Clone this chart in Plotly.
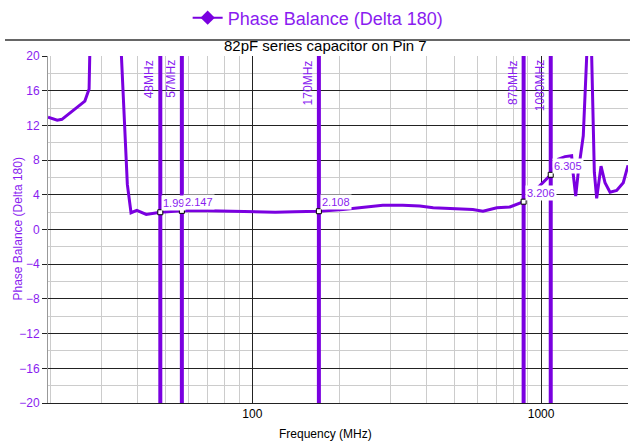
import math
import plotly.graph_objects as go

# ---- data ----
freq_mhz = [19.6, 20, 21.1, 21.9, 24.0, 26.3, 27.2, 27.5, 27.8,
            34.9, 35.2, 36.9, 38.0, 39.8, 42.9, 48, 57, 70, 85, 100, 120, 140, 170,
            206, 240, 283, 332, 380, 423, 470, 536, 580, 629, 703, 780, 870,
            1080, 1147, 1210, 1276, 1290, 1318, 1346, 1400, 1439, 1455, 1485, 1497,
            1529, 1558, 1613, 1665, 1733, 1827, 1926, 2000]
phase_bal = [12.95, 12.85, 12.6, 12.7, 13.7, 14.8, 16.2, 20, 32,
             32, 20, 5.2, 1.93, 2.2, 1.73, 1.99, 2.147, 2.15, 2.1, 2.05, 2.0, 2.05, 2.108,
             2.3, 2.55, 2.8, 2.8, 2.7, 2.5, 2.45, 2.4, 2.3, 2.1, 2.5, 2.6, 3.206,
             6.305, 8.1, 8.4, 8.5, 6.6, 3.85, 6.7, 10.8, 20, 32, 32, 20,
             6.6, 3.6, 7.3, 5.4, 4.3, 4.5, 5.4, 7.4]

marker_freqs = [48, 57, 170, 870, 1080]
marker_names = ["48MHz", "57MHz", "170MHz", "870MHz", "1080MHz"]
marker_vals = [1.99, 2.147, 2.108, 3.206, 6.305]
marker_texts = ["1.99", "2.147", "2.108", "3.206", "6.305"]

x_tickvals = [100, 1000]
x_minor = [20, 30, 40, 50, 60, 70, 80, 90, 200, 300, 400, 500, 600, 700, 800, 900, 2000]

series_name = "Phase Balance (Delta 180)"
subtitle = "82pF series capacitor on Pin 7"
x_title = "Frequency (MHz)"

LINE = "#7a00e0"
TEXT = "#8a1cf0"
FONT = "Liberation Sans, Arial, sans-serif"

fig = go.Figure()

# marker vertical lines
for f in marker_freqs:
    fig.add_trace(go.Scatter(x=[f, f], y=[-20, 20], mode="lines",
                             line=dict(color=LINE, width=4), showlegend=False,
                             hoverinfo="skip"))

# main curve
fig.add_trace(go.Scatter(x=freq_mhz, y=phase_bal, mode="lines",
                         line=dict(color=LINE, width=3), showlegend=False))

# legend entry
fig.add_trace(go.Scatter(x=[None], y=[None], mode="lines+markers", name=series_name,
                         line=dict(color=LINE, width=2),
                         marker=dict(symbol="diamond", size=11, color=LINE)))

# marker points
fig.add_trace(go.Scatter(x=marker_freqs, y=marker_vals, mode="markers",
                         marker=dict(symbol="square", size=5, color="white",
                                     line=dict(color="black", width=1)),
                         showlegend=False))

annotations = []
for f, name, v, t in zip(marker_freqs, marker_names, marker_vals, marker_texts):
    lx = math.log10(f)
    annotations.append(dict(x=lx, y=20, xref="x", yref="y", text=name, showarrow=False,
                            textangle=-90, xanchor="right", yanchor="top",
                            xshift=-2, yshift=-2,
                            font=dict(family=FONT, size=12, color=TEXT)))
    annotations.append(dict(x=lx, y=v, xref="x", yref="y", text=t, showarrow=False,
                            xanchor="left", yanchor="bottom", xshift=1, yshift=1,
                            bgcolor="white", borderpad=1,
                            font=dict(family=FONT, size=11, color=TEXT)))

annotations.append(dict(x=(325 - 48) / 580, y=1 + (56 - 45) / 347, xref="paper", yref="paper",
                        text=subtitle, showarrow=False, xanchor="center", yanchor="middle",
                        font=dict(family=FONT, size=15, color="black")))
annotations.append(dict(x=(325 - 48) / 580, y=-(434 - 403) / 347, xref="paper", yref="paper",
                        text=x_title, showarrow=False, xanchor="center", yanchor="middle",
                        font=dict(family=FONT, size=12, color="black")))
annotations.append(dict(x=(17 - 48) / 580, y=0.5, xref="paper", yref="paper",
                        text=series_name, showarrow=False, textangle=-90,
                        xanchor="center", yanchor="middle",
                        font=dict(family=FONT, size=12, color=TEXT)))

shapes = [dict(type="line", xref="paper", yref="paper",
               x0=(5 - 48) / 580, x1=(630 - 48) / 580,
               y0=1 + (56 - 40) / 347, y1=1 + (56 - 40) / 347,
               line=dict(color="#333333", width=1.5))]

fig.update_layout(
    width=630, height=443,
    margin=dict(l=48, r=2, t=56, b=40),
    paper_bgcolor="white", plot_bgcolor="white",
    font=dict(family=FONT),
    showlegend=True,
    legend=dict(orientation="h", xref="container", yref="container",
                x=0.505, y=1 - 18 / 443, xanchor="center", yanchor="middle",
                font=dict(family=FONT, size=18, color=TEXT),
                bgcolor="rgba(0,0,0,0)"),
    annotations=annotations,
    shapes=shapes,
    xaxis=dict(type="log", range=[math.log10(19.6), math.log10(2000)],
               tickmode="array", tickvals=x_tickvals, ticktext=["100", "1000"],
               tickfont=dict(family=FONT, size=12, color="black"),
               showgrid=True, gridcolor="#222222", gridwidth=1,
               minor=dict(tickmode="array", tickvals=x_minor, showgrid=True,
                          gridcolor="#cccccc", gridwidth=1, ticks=""),
               showline=True, linecolor="#222222", linewidth=1,
               ticks="", zeroline=False),
    yaxis=dict(range=[-20, 20], tickmode="linear", tick0=-20, dtick=4,
               tickfont=dict(family=FONT, size=12, color=TEXT),
               showgrid=True, gridcolor="#222222", gridwidth=1,
               minor=dict(tickmode="linear", tick0=-18, dtick=4, showgrid=True,
                          gridcolor="#cccccc", gridwidth=1),
               ticks="outside", ticklen=5, tickcolor="#222222",
               showline=True, linecolor="#999999", linewidth=1,
               zeroline=False),
)

fig.write_html("out.html", config={"displayModeBar": False},
               post_script="document.body.style.margin='0';document.body.style.overflow='hidden';")
